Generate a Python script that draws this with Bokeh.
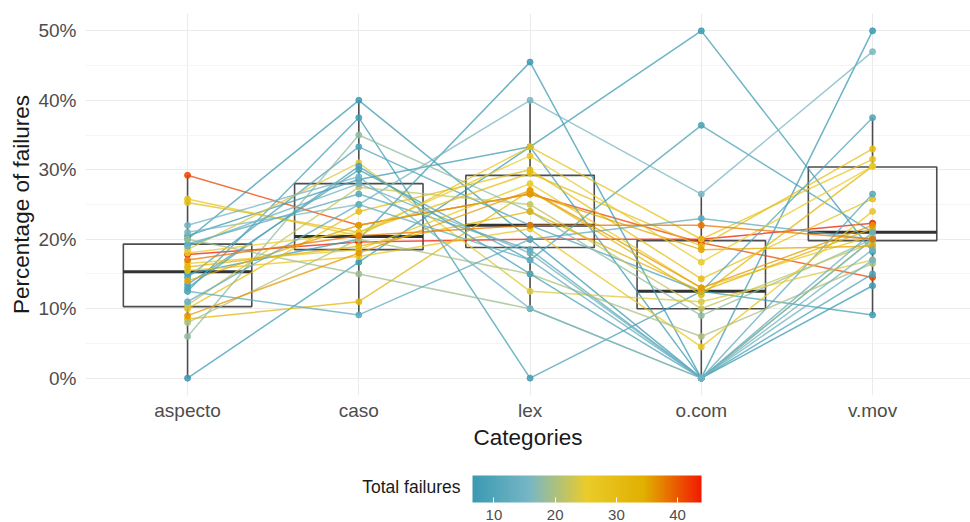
import numpy as np
from bokeh.plotting import figure
from bokeh.models import (ColumnDataSource, Range1d, FixedTicker, LinearColorMapper,
                          ColorBar, PrintfTickFormatter)
from bokeh.transform import transform
from bokeh.layouts import column
from bokeh.embed import file_html
from bokeh.resources import INLINE
from bokeh.core.properties import value

# ---------------- data ----------------
categories = ["aspecto", "caso", "lex", "o.com", "v.mov"]

aspecto = [17.8, 29.2, 0.0, 20.0, 12.5, 20.5, 13.5, 15.0, 21.0, 25.8, 25.3, 8.5, 10.0, 14.5, 19.3, 16.5,
           6.0, 10.5, 18.5, 15.5, 8.0, 20.0, 12.5, 14.0, 16.0, 19.0, 13.0, 18.0, 11.0, 17.0, 9.0, 22.0]
caso = [19.6, 22.0, 16.7, 40.0, 37.5, 28.6, 30.0, 20.0, 25.0, 20.5, 21.0, 11.0, 24.0, 33.3, 26.5, 18.5,
        35.0, 27.5, 31.0, 17.5, 20.0, 15.0, 9.1, 22.0, 19.0, 28.0, 30.5, 21.0, 25.0, 20.5, 18.0, 29.0]
lex = [20.0, 26.5, 33.3, 20.0, 0.0, 33.3, 17.0, 45.5, 40.0, 33.3, 29.5, 27.0, 30.0, 22.0, 18.5, 28.0,
       24.0, 25.0, 12.5, 21.5, 15.0, 10.0, 20.0, 26.5, 24.0, 18.0, 15.0, 32.0, 17.0, 22.0, 27.0, 10.0]
ocom = [20.0, 19.5, 0.0, 0.0, 12.5, 50.0, 36.4, 0.0, 26.5, 20.0, 19.0, 12.0, 14.3, 12.5, 0.0, 13.0,
        9.0, 10.0, 11.0, 4.5, 6.0, 0.0, 23.0, 18.5, 12.5, 0.0, 0.0, 16.7, 0.0, 22.0, 13.0, 0.0]
vmov = [22.3, 14.5, 20.0, 13.3, 9.1, 18.2, 21.0, 50.0, 47.0, 31.5, 33.0, 30.5, 25.8, 37.5, 26.5, 20.5,
        20.0, 19.5, 17.0, 24.0, 16.5, 20.0, 20.0, 19.0, 21.5, 18.5, 15.0, 30.5, 21.0, 20.0, 22.0, 17.0]
total_failures = [44, 41, 7, 7, 8, 7, 9, 7, 16, 28, 30, 32, 30, 10, 11, 26,
                  18, 22, 24, 27, 20, 19, 12, 35, 33, 14, 9, 25, 13, 38, 36, 15]

box_low = [0.0, 9.1, 10.0, 0.0, 9.1]
box_q1 = [10.3, 18.5, 18.8, 10.0, 19.8]
box_median = [15.3, 20.4, 22.0, 12.5, 21.0]
box_q3 = [19.3, 28.0, 29.2, 19.8, 30.4]
box_high = [29.2, 40.0, 40.0, 26.5, 37.5]

y_ticks = [0, 10, 20, 30, 40, 50]
colorbar_ticks = [10, 20, 30, 40]
total_low, total_high = 6.5, 43.9

# ---------------- palette (Zissou1 continuous) ----------------
zissou = ["#3B9AB2", "#78B7C5", "#EBCC2A", "#E1AF00", "#F21A00"]
rgb = np.array([[int(c[i:i + 2], 16) for i in (1, 3, 5)] for c in zissou], dtype=float)
pos = np.linspace(0, 1, len(zissou))
t = np.linspace(0, 1, 256)
palette = ["#%02x%02x%02x" % tuple(int(round(np.interp(tt, pos, rgb[:, k]))) for k in range(3)) for tt in t]
mapper = LinearColorMapper(palette=palette, low=total_low, high=total_high)

FONT = "Liberation Sans"
xpos = list(range(1, len(categories) + 1))
series = [aspecto, caso, lex, ocom, vmov]

# ---------------- main figure ----------------
p = figure(frame_width=885, frame_height=382,
           x_range=Range1d(0.404, 5.572), y_range=Range1d(-2.5, 52.5),
           output_backend="svg", toolbar_location=None,
           min_border_left=85, min_border_right=0, min_border_top=13, min_border_bottom=60)
p.outline_line_color = None
p.background_fill_color = "white"

p.xaxis.ticker = FixedTicker(ticks=xpos)
p.xaxis.major_label_overrides = {x: c for x, c in zip(xpos, categories)}
p.yaxis.ticker = FixedTicker(ticks=y_ticks, minor_ticks=[5, 15, 25, 35, 45])
p.yaxis.formatter = PrintfTickFormatter(format="%d%%")
for ax in (p.xaxis, p.yaxis):
    ax.axis_line_color = None
    ax.major_tick_line_color = None
    ax.minor_tick_line_color = None
    ax.major_tick_out = 0
    ax.major_tick_in = 0
    ax.minor_tick_out = 0
    ax.minor_tick_in = 0
    ax.major_label_text_font = FONT
    ax.major_label_text_font_size = "19px"
    ax.major_label_text_color = "#4D4D4D"
    ax.axis_label_text_font = FONT
    ax.axis_label_text_font_size = "22.5px"
    ax.axis_label_text_font_style = "normal"
    ax.axis_label_text_color = "#1A1A1A"
p.xaxis.axis_label = "Categories"
p.yaxis.axis_label = "Percentage of failures"
p.xaxis.major_label_standoff = 4
p.xaxis.axis_label_standoff = 1
p.yaxis.major_label_standoff = 9
p.yaxis.axis_label_standoff = 1

p.xgrid.grid_line_color = "#EBEBEB"
p.ygrid.grid_line_color = "#EBEBEB"
p.xgrid.grid_line_width = 1.1
p.ygrid.grid_line_width = 1.1
p.ygrid.minor_grid_line_color = "#F3F3F3"
p.ygrid.minor_grid_line_width = 0.8

# boxplots
bw = 0.75
box_src = ColumnDataSource(dict(x=xpos, left=[x - bw / 2 for x in xpos], right=[x + bw / 2 for x in xpos],
                                low=box_low, q1=box_q1, med=box_median, q3=box_q3, high=box_high))
p.segment(x0="x", y0="q3", x1="x", y1="high", source=box_src, line_color="#4D4D4D", line_width=1.6)
p.segment(x0="x", y0="q1", x1="x", y1="low", source=box_src, line_color="#4D4D4D", line_width=1.6)
p.quad(left="left", right="right", bottom="q1", top="q3", source=box_src,
       fill_color=None, line_color="#4D4D4D", line_width=1.6)
p.segment(x0="left", y0="med", x1="right", y1="med", source=box_src, line_color="#333333", line_width=3)

# subject lines
line_src = ColumnDataSource(dict(
    xs=[xpos for _ in total_failures],
    ys=[[s[i] for s in series] for i in range(len(total_failures))],
    total=total_failures))
p.multi_line(xs="xs", ys="ys", source=line_src, line_color=transform("total", mapper),
             line_width=1.5, line_alpha=0.75)

# points
pts = ColumnDataSource(dict(
    x=[x for i in range(len(total_failures)) for x in xpos],
    y=[s[i] for i in range(len(total_failures)) for s in series],
    total=[total_failures[i] for i in range(len(total_failures)) for _ in xpos]))
p.scatter(x="x", y="y", source=pts, size=6, fill_color=transform("total", mapper),
          line_color=transform("total", mapper), alpha=0.85)

# ---------------- colour bar figure ----------------
cb = figure(frame_width=885, frame_height=67, x_range=Range1d(85, 970), y_range=Range1d(0, 67),
            x_axis_type=None, y_axis_type=None,
            output_backend="svg", toolbar_location=None,
            min_border_left=85, min_border_right=0, min_border_top=0, min_border_bottom=0)
cb.grid.visible = False
cb.outline_line_color = None
cb.text(x=[460], y=[36], text=["Total failures"], text_align="right", text_baseline="middle",
        text_font=value(FONT), text_font_size="17.5px", text_color="#1A1A1A")
color_bar = ColorBar(color_mapper=mapper, orientation="horizontal", location=(387, 0),
                     width=229, height=27, padding=0, label_standoff=7,
                     ticker=FixedTicker(ticks=colorbar_ticks),
                     major_label_text_font=FONT, major_label_text_font_size="15px",
                     major_label_text_color="#4D4D4D",
                     major_tick_line_color="white", major_tick_in=5, major_tick_out=0,
                     minor_tick_line_color=None, bar_line_color=None,
                     border_line_color=None, background_fill_alpha=0)
cb.add_layout(color_bar, "center")

layout = column(p, cb, spacing=0)
open("out.html", "w").write(file_html(layout, INLINE))
